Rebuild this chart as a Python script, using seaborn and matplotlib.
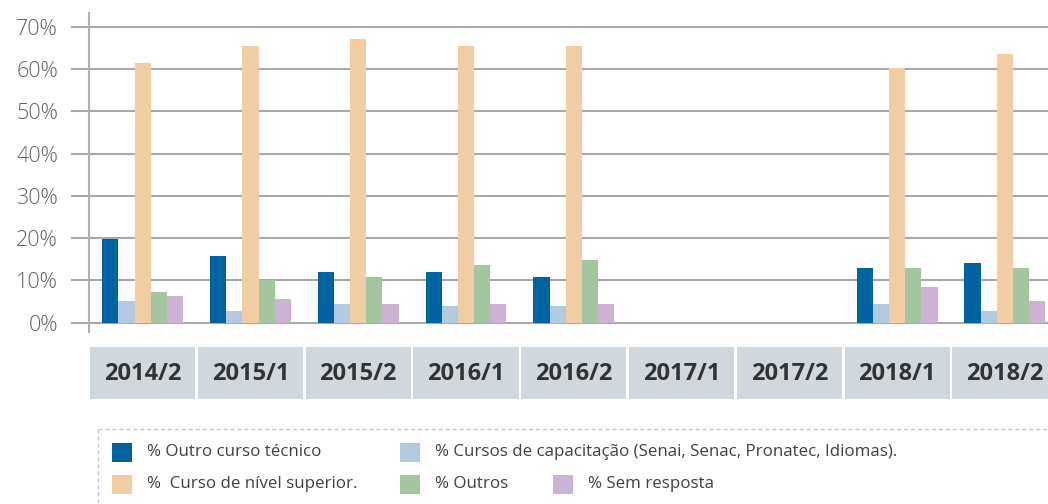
import numpy as np
import pandas as pd
import matplotlib
matplotlib.use("Agg")
import matplotlib.pyplot as plt
import matplotlib.transforms as mtransforms
from matplotlib.patches import Rectangle
from matplotlib.lines import Line2D
import seaborn as sns

# ---- data -------------------------------------------------------------
semesters = ["2014/2", "2015/1", "2015/2", "2016/1", "2016/2",
             "2017/1", "2017/2", "2018/1", "2018/2"]

series_names = [
    "% Outro curso técnico",
    "% Cursos de capacitação (Senai, Senac, Pronatec, Idiomas).",
    "%  Curso de nível superior.",
    "% Outros",
    "% Sem resposta",
]

outro_tecnico = [19.8, 15.8, 12.0, 12.0, 10.9, np.nan, np.nan, 13.0, 14.2]
capacitacao   = [5.2, 2.8, 4.5, 4.0, 4.0, np.nan, np.nan, 4.5, 2.8]
nivel_superior = [61.4, 65.4, 67.1, 65.4, 65.4, np.nan, np.nan, 60.2, 63.5]
outros        = [7.3, 10.1, 10.9, 13.7, 14.9, np.nan, np.nan, 13.0, 13.0]
sem_resposta  = [6.4, 5.7, 4.5, 4.5, 4.5, np.nan, np.nan, 8.5, 5.2]

y_ticks = [0, 10, 20, 30, 40, 50, 60, 70]
y_tick_labels = ["0%", "10%", "20%", "30%", "40%", "50%", "60%", "70%"]

colors = ["#0063a0", "#b3c9e1", "#f0cda2", "#a5c5a0", "#ccb3d3"]

# ---- long-form table for seaborn ----------------------------------------
values = [outro_tecnico, capacitacao, nivel_superior, outros, sem_resposta]
rows = []
for name, vals in zip(series_names, values):
    for sem, v in zip(semesters, vals):
        rows.append({"semestre": sem, "serie": name, "valor": v})
df = pd.DataFrame(rows)

# ---- figure -------------------------------------------------------------
W, H = 1048, 504
sns.set_theme(style="white")
plt.rcParams["font.family"] = ["Open Sans", "DejaVu Sans"]

fig = plt.figure(figsize=(W / 100, H / 100), dpi=100)

def px_x(x):
    return x / W

def px_y(y):
    return 1 - y / H

ax_left, ax_right = 71, 1048
ax_top, ax_bottom = 12, 333
ax = fig.add_axes([px_x(ax_left), px_y(ax_bottom),
                   (ax_right - ax_left) / W, (ax_bottom - ax_top) / H])

sns.barplot(data=df, x="semestre", y="valor", hue="serie",
            order=semesters, hue_order=series_names,
            palette=colors, width=0.75, gap=0, saturation=1,
            errorbar=None, legend=False, ax=ax, zorder=3)
for p in ax.patches:
    p.set_edgecolor("none")

ax.set_xlim(-0.665, 8.40)
ax.set_ylim(-2.44, 73.48)

# horizontal grid lines
for t in y_ticks:
    ax.axhline(t, color="#a9a9a9", lw=1.5, zorder=1)
# vertical axis line
ax.axvline(-0.5, color="#b0b0b0", lw=1.5, zorder=2)

for s in ax.spines.values():
    s.set_visible(False)

ax.set_yticks(y_ticks)
ax.set_yticklabels(y_tick_labels, fontweight="light")
ax.tick_params(axis="y", length=0, pad=9.4, labelsize=15.5, labelcolor="#636363")
ax.set_xticks([])
ax.set_xlabel("")
ax.set_ylabel("")

# category boxes below the plot
blend = mtransforms.blended_transform_factory(ax.transData, fig.transFigure)
box_y0, box_y1 = 399.3, 347.3
for i, sem in enumerate(semesters):
    ax.add_patch(Rectangle((i - 0.488, px_y(box_y0)), 0.976,
                           px_y(box_y1) - px_y(box_y0),
                           transform=blend, facecolor="#d0d8de",
                           edgecolor="none", clip_on=False))
    ax.text(i, px_y(373.5), sem, transform=blend, ha="center", va="center",
            fontsize=17, fontweight="bold", color="#333333", clip_on=False)

# legend frame (dotted top and left edges)
fig.add_artist(Line2D([px_x(97.7), px_x(1048)], [px_y(429), px_y(429)],
                      color="#c8c8c8", lw=1, ls=(0, (3, 2))))
fig.add_artist(Line2D([px_x(97.7), px_x(97.7)], [px_y(429), px_y(504)],
                      color="#c8c8c8", lw=1, ls=(0, (3, 2))))

legend_items = [
    (0, 112, 452),
    (1, 400, 452),
    (2, 112, 484),
    (3, 400, 484),
    (4, 553, 484),
]
for idx, x0, yc in legend_items:
    fig.add_artist(Rectangle((px_x(x0), px_y(yc + 9.5)), 20 / W, 19 / H,
                             transform=fig.transFigure,
                             facecolor=colors[idx], edgecolor="none"))
    fig.text(px_x(x0 + 35), px_y(yc), series_names[idx],
             ha="left", va="center", fontsize=12.2, color="#404040")

fig.savefig("out.png", dpi=100)
